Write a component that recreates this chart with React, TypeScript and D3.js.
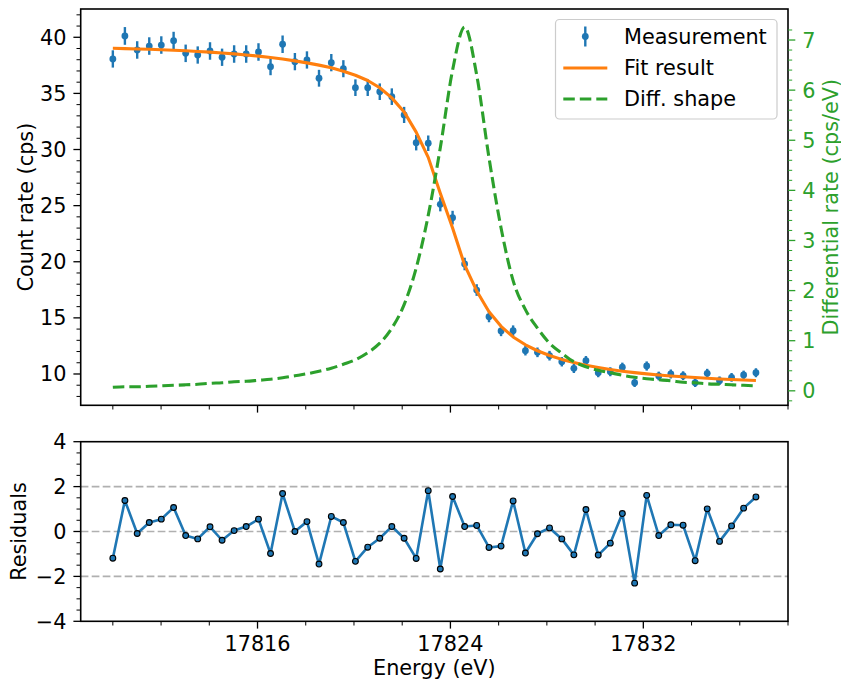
import React from "react";
import * as d3 from "d3";

const energy = [
  17810.0, 17810.5, 17811.01, 17811.51, 17812.01, 17812.52, 17813.02, 17813.52, 17814.03, 17814.53,
  17815.03, 17815.53, 17816.04, 17816.54, 17817.04, 17817.55, 17818.05, 17818.55, 17819.06, 17819.56,
  17820.06, 17820.57, 17821.07, 17821.57, 17822.08, 17822.58, 17823.08, 17823.58, 17824.09, 17824.59,
  17825.09, 17825.6, 17826.1, 17826.6, 17827.11, 17827.61, 17828.11, 17828.62, 17829.12, 17829.62,
  17830.13, 17830.63, 17831.13, 17831.64, 17832.14, 17832.64, 17833.14, 17833.65, 17834.15, 17834.65,
  17835.16, 17835.66, 17836.16, 17836.67,
];

const countRate = [
  38.07, 40.12, 38.87, 39.22, 39.31, 39.7, 38.57, 38.42, 38.78, 38.22,
  38.51, 38.51, 38.69, 37.38, 39.38, 37.83, 37.98, 36.35, 37.74, 37.2,
  35.51, 35.51, 35.15, 34.71, 33.08, 30.61, 30.56, 25.12, 23.93, 19.8,
  17.48, 15.1, 13.83, 13.86, 12.08, 11.93, 11.63, 11.09, 10.5, 11.18,
  10.11, 10.2, 10.6, 9.22, 10.71, 9.82, 10.0, 9.85, 9.22, 10.06,
  9.4, 9.7, 9.91, 10.11,
];

const countErr = [
  0.77, 0.79, 0.78, 0.78, 0.78, 0.79, 0.78, 0.77, 0.78, 0.77,
  0.78, 0.78, 0.78, 0.76, 0.78, 0.77, 0.77, 0.75, 0.77, 0.76,
  0.74, 0.74, 0.74, 0.74, 0.72, 0.69, 0.69, 0.63, 0.61, 0.56,
  0.52, 0.49, 0.46, 0.47, 0.43, 0.43, 0.43, 0.42, 0.41, 0.42,
  0.4, 0.4, 0.41, 0.38, 0.41, 0.39, 0.4, 0.39, 0.38, 0.4,
  0.38, 0.39, 0.39, 0.4,
];

const fitResult = [
  39.02, 38.99, 38.96, 38.93, 38.89, 38.85, 38.8, 38.74, 38.68, 38.6,
  38.52, 38.42, 38.32, 38.2, 38.06, 37.9, 37.72, 37.52, 37.28, 36.98,
  36.62, 36.15, 35.5, 34.6, 33.35, 31.55, 29.3, 26.1, 23.0, 19.7,
  17.4, 15.55, 14.25, 13.3, 12.6, 12.07, 11.65, 11.3, 11.02, 10.78,
  10.58, 10.4, 10.25, 10.12, 10.01, 9.91, 9.82, 9.75, 9.68, 9.62,
  9.56, 9.51, 9.46, 9.42,
];

const diffShape = [
  0.07, 0.08, 0.08, 0.09, 0.1, 0.11, 0.12, 0.13, 0.15, 0.16,
  0.18, 0.19, 0.21, 0.23, 0.26, 0.3, 0.34, 0.39, 0.45, 0.53,
  0.62, 0.76, 0.95, 1.25, 1.72, 2.45, 3.5, 4.85, 6.4, 7.26,
  6.3, 4.65, 3.25, 2.2, 1.62, 1.25, 0.95, 0.75, 0.58, 0.48,
  0.41, 0.36, 0.31, 0.27, 0.24, 0.22, 0.2, 0.17, 0.16, 0.14,
  0.13, 0.12, 0.11, 0.1,
];

const residuals = [
  -1.19, 1.38, -0.09, 0.4, 0.55, 1.07, -0.18, -0.33, 0.21, -0.39,
  0.04, 0.22, 0.55, -0.98, 1.69, 0.0, 0.44, -1.45, 0.67, 0.4,
  -1.33, -0.7, -0.3, 0.22, -0.3, -1.2, 1.82, -1.67, 1.56, 0.22,
  0.27, -0.71, -0.65, 1.36, -0.96, -0.1, 0.16, -0.33, -1.04, 0.98,
  -1.05, -0.52, 0.8, -2.3, 1.61, -0.18, 0.3, 0.28, -1.3, 1.01,
  -0.44, 0.25, 1.04, 1.54,
];

const xMajorTicks = [17816, 17824, 17832];
const xMinorTicks = [17810, 17812, 17814, 17818, 17820, 17822, 17826, 17828, 17830, 17834, 17836, 17838];
const leftTicks = [10, 15, 20, 25, 30, 35, 40];
const rightTicks = [0, 1, 2, 3, 4, 5, 6, 7];
const resTicks = [-4, -2, 0, 2, 4];
const resGuides = [-2, 0, 2];

const BLUE = "#1f77b4";
const ORANGE = "#ff7f0e";
const GREEN = "#2ca02c";
const FS = 20.8;
const FONT = "DejaVu Sans, sans-serif";

const L = 80.7, R = 788;
const T1 = 9, B1 = 405.3;
const T2 = 441.7, B2 = 621.3;
const MAJ = 7.3, MIN = 4.2;

export default function App() {
  const x = d3.scaleLinear().domain([17808.667, 17838.0]).range([L, R]);
  const yL = d3.scaleLinear().domain([7.21, 42.52]).range([B1, T1]);
  const yR = d3.scaleLinear().domain([-0.289, 7.619]).range([B1, T1]);
  const yRes = d3.scaleLinear().domain([-4, 4]).range([B2, T2]);

  const fitLine = d3.line<number>().x((_, i) => x(energy[i])).y((d) => yL(d));
  const diffLine = d3.line<number>().x((_, i) => x(energy[i])).y((d) => yR(d)).curve(d3.curveMonotoneX);
  const resLine = d3.line<number>().x((_, i) => x(energy[i])).y((d) => yRes(d));

  const leftMinor = d3.range(8, 43, 1).filter((v) => v % 5 !== 0);
  const rightMinor = d3.range(0, 38).map((k) => -0.2 + k * 0.2).filter((v) => v > -0.289 && v < 7.619 && Math.abs(v - Math.round(v)) > 0.01);
  const resMinor = d3.range(-4, 4.01, 0.5).filter((v) => Math.abs(v % 2) > 0.01);

  const xTicks = (bottom: number) => (
    <g>
      {xMajorTicks.map((t) => (
        <line key={"M" + t} x1={x(t)} x2={x(t)} y1={bottom} y2={bottom + MAJ} stroke="#000" strokeWidth={1.3} />
      ))}
      {xMinorTicks.map((t) => (
        <line key={"m" + t} x1={x(t)} x2={x(t)} y1={bottom} y2={bottom + MIN} stroke="#000" strokeWidth={1} />
      ))}
    </g>
  );

  return (
    <svg width={841} height={684} style={{ position: "absolute", left: 0, top: 0, background: "#fff" }} fontFamily={FONT}>
      <rect x={0} y={0} width={841} height={684} fill="#fff" />
      {/* ===== Top panel ===== */}
      {countRate.map((v, i) => (
        <line key={"eb" + i} x1={x(energy[i])} x2={x(energy[i])} y1={yL(v - countErr[i])} y2={yL(v + countErr[i])} stroke={BLUE} strokeWidth={2.4} />
      ))}
      {countRate.map((v, i) => (
        <circle key={"pt" + i} cx={x(energy[i])} cy={yL(v)} r={3.4} fill={BLUE} />
      ))}
      <path d={fitLine(fitResult) || ""} fill="none" stroke={ORANGE} strokeWidth={3.1} strokeLinejoin="round" />
      <path d={diffLine(diffShape) || ""} fill="none" stroke={GREEN} strokeWidth={3.1} strokeDasharray="11.5,5" />

      <rect x={L} y={T1} width={R - L} height={B1 - T1} fill="none" stroke="#000" strokeWidth={1.6} />
      {xTicks(B1)}
      {leftTicks.map((t) => (
        <g key={"lt" + t}>
          <line x1={L - MAJ} x2={L} y1={yL(t)} y2={yL(t)} stroke="#000" strokeWidth={1.3} />
          <text x={L - MAJ - 7} y={yL(t)} dy="0.36em" textAnchor="end" fontSize={FS} fill="#000">{t}</text>
        </g>
      ))}
      {leftMinor.map((t) => (
        <line key={"lm" + t} x1={L - MIN} x2={L} y1={yL(t)} y2={yL(t)} stroke="#000" strokeWidth={1} />
      ))}
      <text transform={`translate(25,${(T1 + B1) / 2}) rotate(-90)`} textAnchor="middle" dy="0.36em" fontSize={FS} fill="#000">Count rate (cps)</text>
      {rightTicks.map((t) => (
        <g key={"rt" + t}>
          <line x1={R} x2={R + MAJ} y1={yR(t)} y2={yR(t)} stroke={GREEN} strokeWidth={1.3} />
          <text x={R + MAJ + 7} y={yR(t)} dy="0.36em" textAnchor="start" fontSize={FS} fill={GREEN}>{t}</text>
        </g>
      ))}
      {rightMinor.map((t, i) => (
        <line key={"rm" + i} x1={R} x2={R + MIN} y1={yR(t)} y2={yR(t)} stroke={GREEN} strokeWidth={1} />
      ))}
      <text transform={`translate(830,${(T1 + B1) / 2}) rotate(-90)`} textAnchor="middle" dy="0.36em" fontSize={FS} fill={GREEN}>Differential rate (cps/eV)</text>

      <g>
        <rect x={555.5} y={19.5} width={221.5} height={99.5} rx={4} fill="#fff" fillOpacity={0.8} stroke="#cccccc" strokeWidth={1.2} />
        <line x1={585.3} x2={585.3} y1={26.5} y2={46.5} stroke={BLUE} strokeWidth={2.4} />
        <circle cx={585.3} cy={36.5} r={3.4} fill={BLUE} />
        <text x={624} y={36.5} dy="0.36em" fontSize={FS} fill="#000">Measurement</text>
        <line x1={563.3} x2={607.3} y1={68} y2={68} stroke={ORANGE} strokeWidth={3.1} />
        <text x={624} y={68} dy="0.36em" fontSize={FS} fill="#000">Fit result</text>
        <line x1={563.3} x2={607.3} y1={99} y2={99} stroke={GREEN} strokeWidth={3.1} strokeDasharray="11.5,5" />
        <text x={624} y={99} dy="0.36em" fontSize={FS} fill="#000">Diff. shape</text>
      </g>

      {/* ===== Bottom panel ===== */}
      {resGuides.map((g) => (
        <line key={"g" + g} x1={L} x2={R} y1={yRes(g)} y2={yRes(g)} stroke="#b0b0b0" strokeWidth={1.6} strokeDasharray="7.7,3.3" />
      ))}
      <path d={resLine(residuals) || ""} fill="none" stroke={BLUE} strokeWidth={2.6} strokeLinejoin="round" />
      {residuals.map((r, i) => (
        <circle key={"rp" + i} cx={x(energy[i])} cy={yRes(r)} r={2.9} fill={BLUE} stroke="#000" strokeWidth={1.1} />
      ))}
      <rect x={L} y={T2} width={R - L} height={B2 - T2} fill="none" stroke="#000" strokeWidth={1.6} />
      {xTicks(B2)}
      {xMajorTicks.map((t) => (
        <text key={"xl" + t} x={x(t)} y={650.5} textAnchor="middle" fontSize={FS} fill="#000">{t}</text>
      ))}
      {resTicks.map((t) => (
        <g key={"rt2" + t}>
          <line x1={L - MAJ} x2={L} y1={yRes(t)} y2={yRes(t)} stroke="#000" strokeWidth={1.3} />
          <text x={L - MAJ - 7} y={yRes(t)} dy="0.36em" textAnchor="end" fontSize={FS} fill="#000">{t < 0 ? "\u2212" + Math.abs(t) : String(t)}</text>
        </g>
      ))}
      {resMinor.map((t, i) => (
        <line key={"rsm" + i} x1={L - MIN} x2={L} y1={yRes(t)} y2={yRes(t)} stroke="#000" strokeWidth={1} />
      ))}
      <text transform={`translate(18,${(T2 + B2) / 2}) rotate(-90)`} textAnchor="middle" dy="0.36em" fontSize={FS} fill="#000">Residuals</text>
      <text x={(L + R) / 2} y={675} textAnchor="middle" fontSize={FS} fill="#000">Energy (eV)</text>
    </svg>
  );
}
